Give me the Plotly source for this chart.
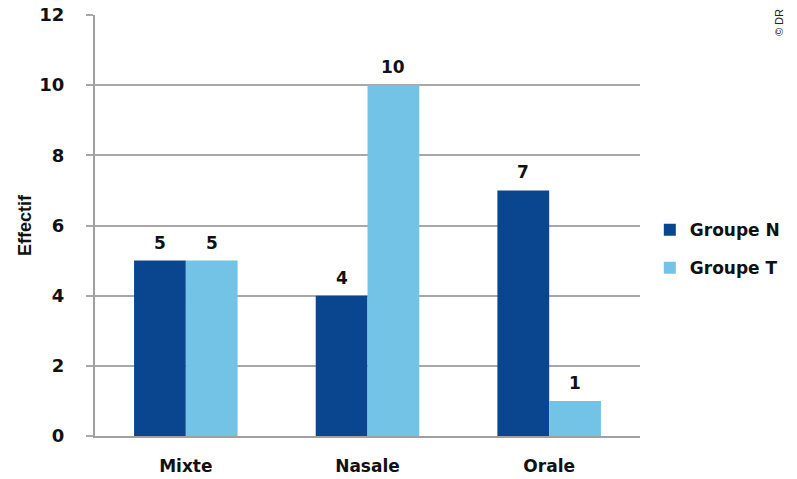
import plotly.graph_objects as go

categories = ["Mixte", "Nasale", "Orale"]
groupe_n = [5, 4, 7]
groupe_t = [5, 10, 1]
y_ticks = [0, 2, 4, 6, 8, 10, 12]
series = [("Groupe N", groupe_n, "#0a4690", -0.25), ("Groupe T", groupe_t, "#72c3e6", 0.25)]

font_main = "DejaVu Sans, Verdana, sans-serif"

fig = go.Figure()
for name, vals, color, off in series:
    fig.add_trace(go.Bar(
        x=categories, y=vals, name=name, legendgroup=name,
        marker=dict(color=color, line=dict(width=0)),
    ))

# value labels above bars (positioned through the axes)
for name, vals, color, off in series:
    for i, v in enumerate(vals):
        fig.add_annotation(
            x=i + off * (1 - 0.43), y=v, xref="x", yref="y",
            text=str(v), showarrow=False, yanchor="bottom", yshift=6,
            font=dict(family=font_main, size=17, color="#111111", weight="bold"),
        )

fig.update_layout(
    width=797, height=479,
    margin=dict(l=95, r=157, t=15, b=43, autoexpand=False),
    paper_bgcolor="white", plot_bgcolor="white",
    barmode="group", bargap=0.43, bargroupgap=0,
    font=dict(family=font_main, size=17, color="#111111"),
    showlegend=True,
    legend=dict(
        x=1.018, y=0.444, xanchor="left", yanchor="middle",
        font=dict(family=font_main, size=17, color="#111111", weight="bold"),
        tracegroupgap=13, bgcolor="rgba(0,0,0,0)",
    ),
    xaxis=dict(
        showline=True, linecolor="#a0a0a0", linewidth=2,
        ticks="", showgrid=False, ticklabelstandoff=14,
        tickfont=dict(family=font_main, size=17, color="#111111", weight="bold"),
    ),
    yaxis=dict(
        range=[0, 12], tickvals=y_ticks,
        showgrid=True, gridcolor="#a8a8a8", gridwidth=2,
        showline=True, linecolor="#a0a0a0", linewidth=2,
        ticks="outside", ticklen=7, tickwidth=2, tickcolor="#a8a8a8",
        ticklabelstandoff=18,
        zeroline=False,
        tickfont=dict(family=font_main, size=18, color="#111111", weight="bold"),
        title=dict(text="Effectif", standoff=3,
                   font=dict(family="Liberation Sans, Arial, sans-serif", size=18,
                             color="#111111", weight="bold")),
    ),
)

fig.add_annotation(
    text="© DR", xref="paper", yref="paper", x=1.255, y=1.02,
    xanchor="center", yanchor="top", textangle=-90, showarrow=False,
    font=dict(family="Liberation Sans, Arial, sans-serif", size=11, color="#222222"),
)

fig.write_html("out.html")
